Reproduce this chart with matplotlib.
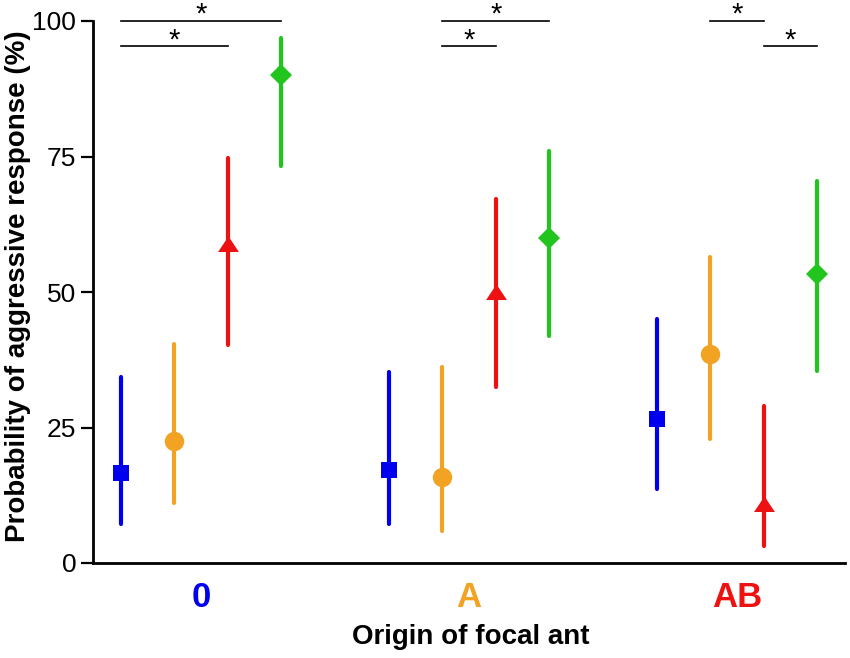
import matplotlib
matplotlib.use("Agg")
import matplotlib.pyplot as plt
from matplotlib.path import Path
import numpy as np

plt.rcParams['font.family'] = ['Liberation Sans', 'DejaVu Sans']

# ---- data ----
groups = ["0", "A", "AB"]
group_colors = ["#0000EE", "#F2A324", "#EE1111"]
series_colors = ["#0000EE", "#F2A324", "#EE1111", "#22C41E"]
series_markers = ["s", "o", "tri", "D"]

est = [[16.6, 22.6, 58.8, 90.0],
       [17.2, 15.9, 50.0, 60.0],
       [26.6, 38.6, 10.8, 53.3]]
lower = [[7.2, 11.0, 40.2, 73.2],
         [7.2, 5.9, 32.4, 41.8],
         [13.7, 22.9, 3.1, 35.5]]
upper = [[34.4, 40.4, 74.7, 96.9],
         [35.3, 36.1, 67.1, 76.1],
         [45.0, 56.5, 28.9, 70.4]]

# significance brackets: (group, series_from, series_to, row)
sig_group = [0, 0, 1, 1, 2, 2]
sig_from = [0, 0, 1, 1, 1, 2]
sig_to = [3, 2, 3, 2, 2, 3]
sig_row = [0, 1, 0, 1, 0, 1]
sig_levels = [100, 95.3]

yticks = [0, 25, 50, 75, 100]

# ---- figure ----
fig = plt.figure(figsize=(8.5, 6.58), dpi=100)
ax = fig.add_axes([93/850, 95/658, 752/850, 542/658])

offsets = [-0.3, -0.1, 0.1, 0.3]
tri = Path([(-1, -0.72), (1, -0.72), (0, 0.78), (-1, -0.72)],
           [Path.MOVETO, Path.LINETO, Path.LINETO, Path.CLOSEPOLY])
msizes = [11.5, 14, 15, 11.2]

for g in range(len(groups)):
    for s in range(4):
        x = g + offsets[s]
        ax.plot([x, x], [lower[g][s], upper[g][s]], color=series_colors[s],
                lw=3.0, solid_capstyle='round', zorder=2, clip_on=False)
        m = tri if series_markers[s] == "tri" else series_markers[s]
        ax.plot([x], [est[g][s]], marker=m, ms=msizes[s], color=series_colors[s],
                mec=series_colors[s], mew=0, linestyle='none', zorder=3, clip_on=False)

for g, a, b, r in zip(sig_group, sig_from, sig_to, sig_row):
    x0 = g + offsets[a]
    x1 = g + offsets[b]
    y = sig_levels[r]
    ax.plot([x0, x1], [y, y], color='black', lw=1.2, clip_on=False, zorder=4)
    ax.text((x0 + x1) / 2, y - 0.3, "*", ha='center', va='baseline', fontsize=21,
            color='black', clip_on=False)

ax.set_xlim(-0.403, 2.403)
ax.set_ylim(0, 100)
ax.set_yticks(yticks)
ax.set_yticklabels([str(t) for t in yticks], fontsize=19)
ax.set_xticks(range(len(groups)))
ax.set_xticklabels(groups, fontsize=25, fontweight='bold')
for lbl, c in zip(ax.get_xticklabels(), group_colors):
    lbl.set_color(c)

ax.tick_params(axis='x', length=0, pad=13)
ax.tick_params(axis='y', length=9, width=1.6, pad=3)
for side in ['top', 'right']:
    ax.spines[side].set_visible(False)
ax.spines['left'].set_linewidth(2)
ax.spines['bottom'].set_linewidth(2)

fig.text(471/850, 1 - 637/658, "Origin of focal ant", ha='center', va='center',
         fontsize=20, fontweight='bold')
fig.text(18/850, 1 - 286/658, "Probability of aggressive response (%)",
         rotation=90, ha='center', va='center', fontsize=20, fontweight='bold')

fig.savefig("out.png", dpi=100)
